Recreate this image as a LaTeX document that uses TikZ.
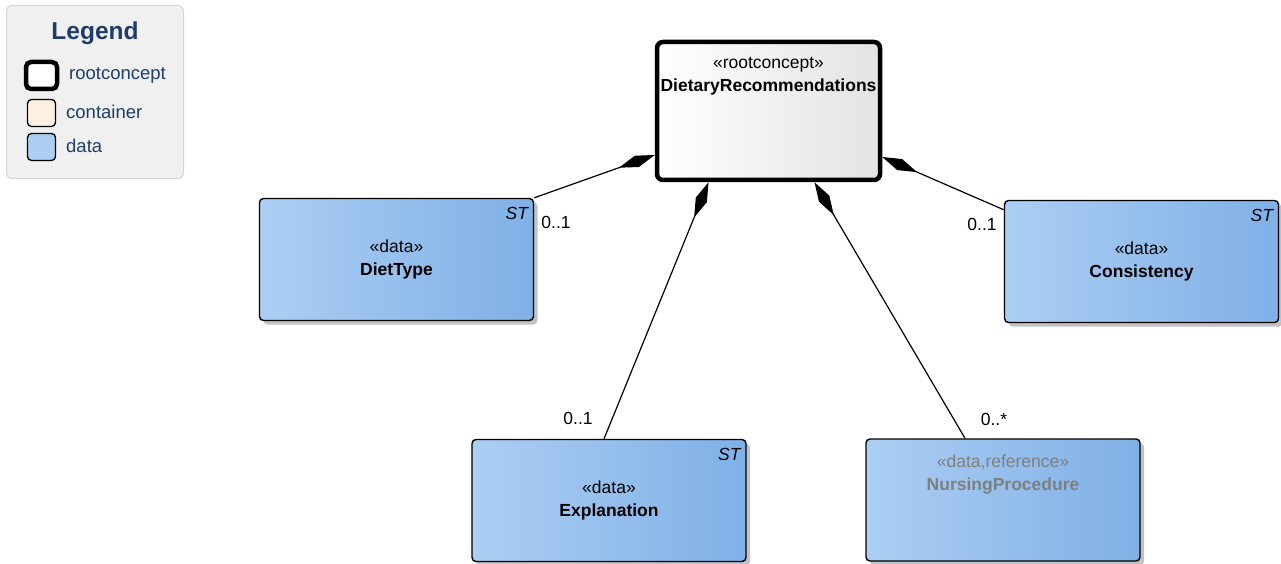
\documentclass[tikz,border=0pt]{standalone}
\usepackage{fontspec}
\setmainfont{Liberation Sans}
\usetikzlibrary{arrows.meta,shadows,calc}
\definecolor{legbg}{HTML}{F0F0F0}
\definecolor{legborder}{HTML}{D6D6D6}
\definecolor{navy}{HTML}{1F3D6B}
\definecolor{dataL}{HTML}{ACCEF3}
\definecolor{dataR}{HTML}{7FB0E7}
\definecolor{contfill}{HTML}{FCF0E2}
\definecolor{shadowc}{HTML}{A8A8A8}
\definecolor{refgrey}{HTML}{7F7F7F}
\begin{document}
\begin{tikzpicture}[x=1pt,y=-1pt,
  every node/.style={font=\fontsize{17.5}{23}\selectfont},
  databox/.style={draw=black, line width=1.4pt, rounded corners=4pt,
    left color=dataL, right color=dataR, minimum width=274pt, minimum height=122pt,
    inner sep=0pt, align=center,
    drop shadow={shadow xshift=4pt, shadow yshift=-4pt, fill=shadowc, opacity=0.7}},
  rootbox/.style={draw=black, line width=4.5pt, rounded corners=6pt,
    left color=white, middle color=white, right color=black!11,
    minimum width=223pt, minimum height=138pt, inner sep=0pt},
  conn/.style={line width=1.2pt, -{Diamond[length=38pt,width=12pt]}},
  mult/.style={inner sep=0pt, anchor=center},
  sttag/.style={inner sep=0pt, anchor=north east, font=\fontsize{17.5}{17.5}\selectfont\itshape},
  legtext/.style={text=navy, anchor=west, inner sep=0pt, font=\fontsize{18.5}{18.5}\selectfont},
  swatch/.style={draw=black, line width=1.3pt, rounded corners=4pt, minimum width=28pt, minimum height=27pt, inner sep=0pt}
]
\useasboundingbox (0,0) rectangle (1281,564);

% Legend
\node[draw=legborder, line width=1pt, fill=legbg, rounded corners=5pt,
  minimum width=177pt, minimum height=173pt, inner sep=0pt] (legend) at (95,92) {};
\node[text=navy, inner sep=0pt, font=\fontsize{24.5}{24.5}\selectfont\bfseries] (legtitle) at (95,33) {Legend};
\node[swatch, line width=4.5pt, fill=white, minimum width=31pt, minimum height=27pt, rounded corners=5pt] (swroot) at (41.5,75.5) {};
\node[legtext] (ltroot) at (69,75) {rootconcept};
\node[swatch, fill=contfill] (swcont) at (41.5,113) {};
\node[legtext] (ltcont) at (66,112) {container};
\node[swatch, fill=dataL] (swdata) at (41.5,147) {};
\node[legtext] (ltdata) at (66,146) {data};

% Root
\node[rootbox] (root) at (768.5,111) {};
\node[inner sep=0pt, align=center, anchor=north] (roottxt) at ([yshift=-17pt]root.north)
  {«rootconcept»\\\textbf{DietaryRecommendations}};

% Data boxes
\node[databox] (diet) at (396.5,259.5) {«data»\\\textbf{DietType}};
\node[sttag] (dietst) at ([shift={(-6pt,-9pt)}]diet.north east) {ST};

\node[databox] (cons) at (1141.5,261.5) {«data»\\\textbf{Consistency}};
\node[sttag] (consst) at ([shift={(-6pt,-9pt)}]cons.north east) {ST};

\node[databox] (expl) at (609,500.5) {«data»\\\textbf{Explanation}};
\node[sttag] (explst) at ([shift={(-6pt,-9pt)}]expl.north east) {ST};

\node[databox] (nurs) at (1003,500) {};
\node[inner sep=0pt, align=center, anchor=north, text=refgrey] (nurstxt) at ([yshift=-16pt]nurs.north)
  {«data,reference»\\\textbf{NursingProcedure}};

% Connectors
\draw[conn] (diet.north east) -- ([yshift=-44pt]root.west);
\draw[conn] ([yshift=-10pt]cons.north west) -- ([yshift=-46pt]root.east);
\draw[conn] ([xshift=-5pt]expl.north) -- ([xshift=-60pt]root.south);
\draw[conn] ([xshift=-38pt]nurs.north) -- ([xshift=46pt]root.south);

% Multiplicities
\node[mult] (m1) at (556,222) {0..1};
\node[mult] (m2) at (982,224) {0..1};
\node[mult] (m3) at (578,418) {0..1};
\node[mult] (m4) at (994,419) {0..*};
\end{tikzpicture}
\end{document}
